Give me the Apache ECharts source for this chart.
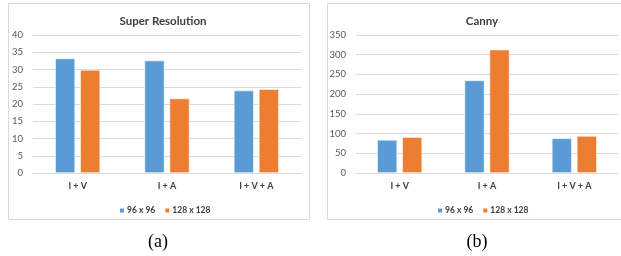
<!DOCTYPE html>
<html>
<head>
    <meta charset="UTF-8">
    <title>Super Resolution / Canny</title>
    <script src="https://cdn.jsdelivr.net/npm/echarts@6/dist/echarts.min.js"></script>
    <style>
        html, body { margin: 0; padding: 0; background: #fff; }
        #chart { width: 621px; height: 256px; }
    </style>
</head>
<body>
    <div id="chart"></div>
    <script>
        // data
        const categories = ['I + V', 'I + A', 'I + V + A'];
        const seriesNames = ['96 x 96', '128 x 128'];
        const srSmall = [33.2, 32.6, 23.9];
        const srLarge = [29.9, 21.6, 24.3];
        const cannySmall = [84, 235, 88];
        const cannyLarge = [91, 313, 94];
        const captions = ['(a)', '(b)'];

        const blue = '#5b9bd5';
        const orange = '#ed7d31';
        const grey = '#595959';
        const dark = '#404040';
        const font = 'Lato';

        const chart = echarts.init(document.getElementById('chart'));

        function xAxis(idx) {
            return {
                type: 'category',
                gridIndex: idx,
                data: categories,
                axisLine: { lineStyle: { color: '#d9d9d9' } },
                axisTick: { show: false },
                axisLabel: { color: dark, fontSize: 9, fontWeight: 'bold', fontFamily: font, margin: 9 }
            };
        }
        function yAxis(idx, max, interval) {
            return {
                type: 'value',
                gridIndex: idx,
                min: 0, max: max, interval: interval,
                axisLine: { show: false },
                axisTick: { show: false },
                splitLine: { lineStyle: { color: '#d9d9d9' } },
                axisLabel: { color: grey, fontSize: 9.5, fontFamily: font, margin: 10 }
            };
        }
        function bar(name, idx, data, color) {
            return {
                name: name, type: 'bar',
                xAxisIndex: idx, yAxisIndex: idx,
                data: data,
                barWidth: 20, barGap: '25%',
                itemStyle: { color: color, borderColor: '#fff', borderWidth: 0.6 }
            };
        }
        function legend(left) {
            return {
                left: left, top: 201,
                itemWidth: 6, itemHeight: 6, itemGap: 8,
                icon: 'rect',
                data: seriesNames,
                textStyle: { color: dark, fontSize: 8.5, fontWeight: 'bold', fontFamily: font, padding: [0, 0, 0, -3] }
            };
        }

        const option = {
            animation: false,
            title: [
                { text: 'Super Resolution', left: 158, top: 10, textAlign: 'center',
                  textStyle: { color: dark, fontSize: 11.5, fontWeight: 'bold', fontFamily: font } },
                { text: 'Canny', left: 477, top: 10, textAlign: 'center',
                  textStyle: { color: dark, fontSize: 11.5, fontWeight: 'bold', fontFamily: font } }
            ],
            legend: [legend(113), legend(431)],
            grid: [
                { left: 33, top: 35, width: 268, height: 138 },
                { left: 356, top: 35, width: 262, height: 138 }
            ],
            xAxis: [xAxis(0), xAxis(1)],
            yAxis: [yAxis(0, 40, 5), yAxis(1, 350, 50)],
            series: [
                bar(seriesNames[0], 0, srSmall, blue),
                bar(seriesNames[1], 0, srLarge, orange),
                bar(seriesNames[0], 1, cannySmall, blue),
                bar(seriesNames[1], 1, cannyLarge, orange)
            ],
            graphic: [
                { type: 'rect', shape: { x: 8.5, y: 3.5, width: 301, height: 216 },
                  style: { fill: 'none', stroke: '#d9d9d9', lineWidth: 1 }, z: -1 },
                { type: 'rect', shape: { x: 327.5, y: 3.5, width: 300, height: 216 },
                  style: { fill: 'none', stroke: '#d9d9d9', lineWidth: 1 }, z: -1 },
                { type: 'text', x: 158, y: 242,
                  style: { text: captions[0], fill: '#000', font: '18px "Liberation Serif"', align: 'center', verticalAlign: 'middle' } },
                { type: 'text', x: 477, y: 242,
                  style: { text: captions[1], fill: '#000', font: '18px "Liberation Serif"', align: 'center', verticalAlign: 'middle' } }
            ]
        };

        chart.setOption(option);
    </script>
</body>
</html>
